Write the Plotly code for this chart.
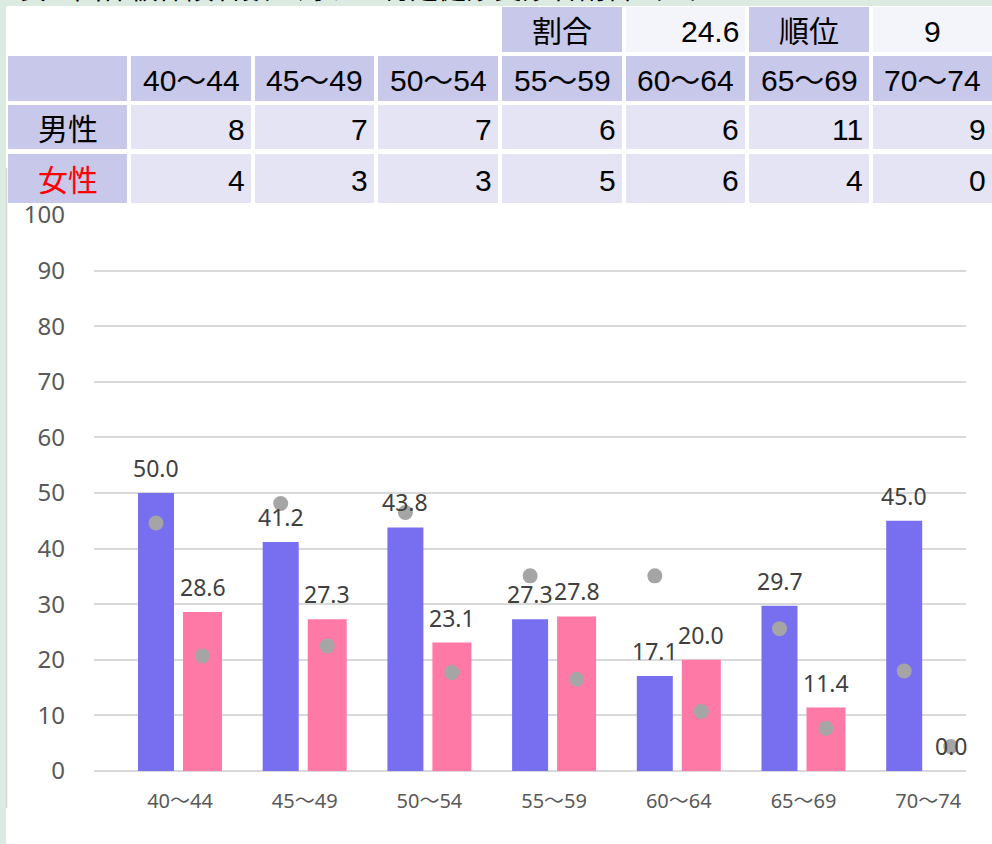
import plotly.graph_objects as go

W, H = 992, 844

# ---------------- data ----------------
categories = ["40～44", "45～49", "50～54", "55～59", "60～64", "65～69", "70～74"]
male_count = [8, 7, 7, 6, 6, 11, 9]
female_count = [4, 3, 3, 5, 6, 4, 0]
ratio_value = 24.6
rank_value = 9
male_rate = [50.0, 41.2, 43.8, 27.3, 17.1, 29.7, 45.0]
female_rate = [28.6, 27.3, 23.1, 27.8, 20.0, 11.4, 0.0]
male_ref = [44.6, 48.1, 46.5, 35.1, 35.1, 25.6, 18.0]
female_ref = [20.7, 22.5, 17.7, 16.5, 10.7, 7.7, 4.4]
y_ticks = list(range(0, 101, 10))
row_labels = ["男性", "女性"]
top_labels = ["割合", "順位"]
title_text = "表　国保被保険者数に対する特定健診受診者割合（％）"

# ---------------- styling ----------------
GREEN = "#dcebe1"
HEAD = "#c8c8ea"
CELL = "#e4e4f4"
LIGHT = "#f4f4fb"
BLUE = "#786ef0"
PINK = "#ff79a6"
DOT = "#a5a5a5"
TFONT = "Liberation Sans, Arial, Noto Sans CJK JP"
CFONT = "Noto Sans, Noto Sans CJK JP"


def px(x):
    return x / W


def py(y):
    return 1 - y / H


cols = [(8, 127), (131, 251), (255, 374), (378, 498), (502, 622), (626, 745), (749, 869), (873, 992)]
rows = [(7, 52), (56, 101), (105, 149), (154, 203)]

shapes = []
annotations = []

# background strips
shapes.append(dict(type="rect", xref="paper", yref="paper", x0=0, x1=1, y0=py(6), y1=1,
                   fillcolor=GREEN, line_width=0, layer="below"))
shapes.append(dict(type="rect", xref="paper", yref="paper", x0=0, x1=px(6), y0=0, y1=1,
                   fillcolor=GREEN, line_width=0, layer="below"))
shapes.append(dict(type="line", xref="paper", yref="paper", x0=px(6.5), x1=px(6.5), y0=py(808), y1=py(168),
                   line=dict(color="#d4d4d4", width=1.5), layer="below"))

# title (cut off at the top edge, as in the source)
annotations.append(dict(text=title_text, xref="paper", yref="paper", x=px(16), y=py(7.5),
                        xanchor="left", yanchor="bottom", showarrow=False,
                        font=dict(family=TFONT, size=28, color="black")))


def cell(ci, ri, color):
    x0, x1 = cols[ci]
    y0, y1 = rows[ri]
    shapes.append(dict(type="rect", xref="paper", yref="paper", x0=px(x0), x1=px(x1),
                       y0=py(y1), y1=py(y0), fillcolor=color, line_width=0))


def text(ci, ri, s, align="center", color="black"):
    x0, x1 = cols[ci]
    y0, y1 = rows[ri]
    if align == "center":
        x, xa = (x0 + x1) / 2, "center"
    else:
        x, xa = x1 - 4, "right"
    annotations.append(dict(text=s, xref="paper", yref="paper", x=px(x), y=py((y0 + y1) / 2 + 2),
                            xanchor=xa, yanchor="middle", showarrow=False,
                            font=dict(family=TFONT, size=30, color=color)))


# row 0: ratio / rank
cell(4, 0, HEAD); text(4, 0, top_labels[0])
cell(5, 0, LIGHT); text(5, 0, f"{ratio_value:.1f}", align="right")
cell(6, 0, HEAD); text(6, 0, top_labels[1])
cell(7, 0, LIGHT); text(7, 0, str(rank_value))

# row 1: header
cell(0, 1, HEAD)
for i, c in enumerate(categories):
    cell(i + 1, 1, HEAD)
    text(i + 1, 1, c)

# rows 2-3: counts
for ri, (lab, vals, col) in enumerate([(row_labels[0], male_count, "black"),
                                        (row_labels[1], female_count, "#ff0000")]):
    cell(0, ri + 2, HEAD)
    text(0, ri + 2, lab, color=col)
    for i, v in enumerate(vals):
        cell(i + 1, ri + 2, CELL)
        text(i + 1, ri + 2, str(v), align="right")

# ---------------- chart ----------------
idx = list(range(len(categories)))
BLUE_OFF, BLUE_W = -0.3368, 0.2887
PINK_OFF, PINK_W = 0.0241, 0.3127
blue_c = BLUE_OFF + BLUE_W / 2
pink_c = PINK_OFF + PINK_W / 2

fig = go.Figure()
fig.add_trace(go.Bar(x=idx, y=male_rate, offset=BLUE_OFF, width=BLUE_W,
                     marker=dict(color=BLUE, line=dict(width=0)), name="男性", hoverinfo="y"))
fig.add_trace(go.Bar(x=idx, y=female_rate, offset=PINK_OFF, width=PINK_W,
                     marker=dict(color=PINK, line=dict(width=0)), name="女性", hoverinfo="y"))
fig.add_trace(go.Scatter(x=[i + blue_c for i in idx], y=male_ref, mode="markers",
                         marker=dict(color=DOT, size=15), cliponaxis=False, name="男性(参考)"))
fig.add_trace(go.Scatter(x=[i + pink_c for i in idx], y=female_ref, mode="markers",
                         marker=dict(color=DOT, size=15), cliponaxis=False, name="女性(参考)"))

for vals, off in [(male_rate, blue_c), (female_rate, pink_c)]:
    for i, v in zip(idx, vals):
        annotations.append(dict(text=f"{v:.1f}", x=i + off, y=v, xref="x", yref="y",
                                yshift=25, showarrow=False, xanchor="center", yanchor="middle",
                                font=dict(family=CFONT, size=23, color="#404040")))

plot_x0, plot_x1 = 94, 966
y0px, y100px = 771, 215
slot = 124.7
r0 = -(180 - plot_x0) / slot
r1 = r0 + (plot_x1 - plot_x0) / slot

fig.update_layout(
    width=W, height=H,
    margin=dict(l=0, r=0, t=0, b=0, autoexpand=False),
    paper_bgcolor="white", plot_bgcolor="rgba(0,0,0,0)",
    barmode="overlay", showlegend=False,
    shapes=shapes, annotations=annotations,
    xaxis=dict(domain=[px(plot_x0), px(plot_x1)], range=[r0, r1], automargin=False,
               tickmode="array", tickvals=idx, ticktext=categories,
               showgrid=False, zeroline=False, showline=False, ticks="",
               ticklabelstandoff=16,
               tickfont=dict(family=CFONT, size=20, color="#595959")),
    yaxis=dict(domain=[py(y0px), py(y100px)], range=[0, 100], automargin=False,
               tickmode="array", tickvals=y_ticks,
               showgrid=True, gridcolor="#d9d9d9", gridwidth=1.5,
               zeroline=True, zerolinecolor="#d9d9d9", zerolinewidth=1.5,
               showline=False, ticks="", ticklabelstandoff=28,
               tickfont=dict(family=CFONT, size=24, color="#595959")),
)

fig.write_html("out.html", config={"displayModeBar": False},
               post_script="document.body.style.margin='0';document.body.style.overflow='hidden';")
